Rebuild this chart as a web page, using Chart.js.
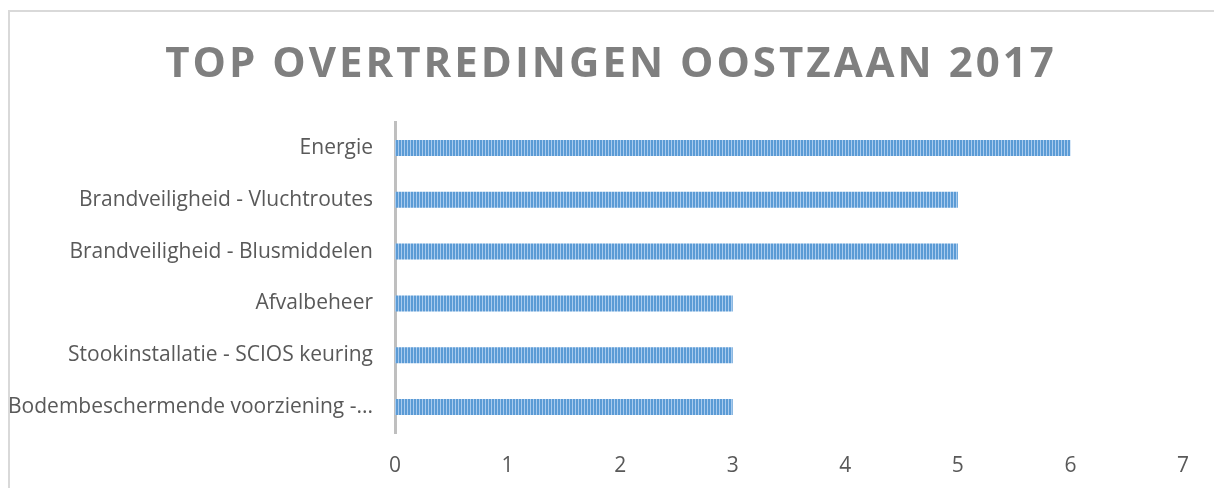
<!DOCTYPE html>
<html>
<head>
<meta charset="utf-8">
<script src="https://cdn.jsdelivr.net/npm/chart.js@4.4.1/dist/chart.umd.min.js"></script>
<style>
  html, body { margin: 0; padding: 0; background: #fff; overflow: hidden; }
  #frame {
    position: absolute; left: 8px; top: 10px;
    width: 1400px; height: 700px;
    border: 2px solid #d9d9d9; box-sizing: border-box;
  }
  #chart { position: absolute; left: 0; top: 0; }
</style>
</head>
<body>
<div id="frame"></div>
<canvas id="chart" width="1214" height="488"></canvas>
<script>
const chartTitle = 'TOP OVERTREDINGEN OOSTZAAN 2017';
const categories = [
    'Energie',
    'Brandveiligheid - Vluchtroutes',
    'Brandveiligheid - Blusmiddelen',
    'Afvalbeheer',
    'Stookinstallatie - SCIOS keuring',
    'Bodembeschermende voorziening -...'
];
const counts = [6, 5, 5, 3, 3, 3];
const axisMin = 0;
const axisMax = 7;

// striped fill like the excel pattern
function stripePattern() {
    const c = document.createElement('canvas');
    c.width = 3;
    c.height = 1;
    const cx = c.getContext('2d');
    cx.fillStyle = '#5b9bd5';
    cx.fillRect(0, 0, 2, 1);
    cx.fillStyle = '#a9cbee';
    cx.fillRect(2, 0, 1, 1);
    return cx.createPattern(c, 'repeat');
}

const spacedTitle = {
    id: 'spacedTitle',
    afterDraw(chart) {
        const ctx = chart.ctx;
        ctx.save();
        ctx.font = 'bold 42px "Open Sans"';
        ctx.letterSpacing = '3px';
        ctx.fillStyle = '#7f7f7f';
        ctx.textAlign = 'center';
        ctx.textBaseline = 'alphabetic';
        ctx.fillText(chartTitle, 611, 77);
        ctx.restore();
    }
};

new Chart(document.getElementById('chart'), {
    type: 'bar',
    data: {
        labels: categories,
        datasets: [{
            label: 'Aantal',
            data: counts,
            backgroundColor: stripePattern(),
            borderWidth: 0,
            categoryPercentage: 1,
            barPercentage: 0.31
        }]
    },
    options: {
        indexAxis: 'y',
        responsive: false,
        devicePixelRatio: 1,
        animation: false,
        layout: {
            padding: { top: 122, right: 31, bottom: 0, left: 0 }
        },
        plugins: {
            legend: { display: false },
            title: { display: false },
            tooltip: { enabled: false }
        },
        scales: {
            x: {
                min: axisMin,
                max: axisMax,
                grid: { display: false, drawTicks: false },
                border: { display: false },
                ticks: {
                    stepSize: 1,
                    padding: 20,
                    color: '#595959',
                    font: { family: 'Open Sans', size: 21 }
                },
                afterFit(scale) {
                    scale.height = 55;
                }
            },
            y: {
                grid: { display: false, drawTicks: false },
                border: { display: true, color: '#bfbfbf', width: 3 },
                ticks: {
                    padding: 22,
                    color: '#595959',
                    font: { family: 'Open Sans', size: 21 }
                },
                afterFit(scale) {
                    scale.width = 395;
                }
            }
        }
    },
    plugins: [spacedTitle]
});
</script>
</body>
</html>
